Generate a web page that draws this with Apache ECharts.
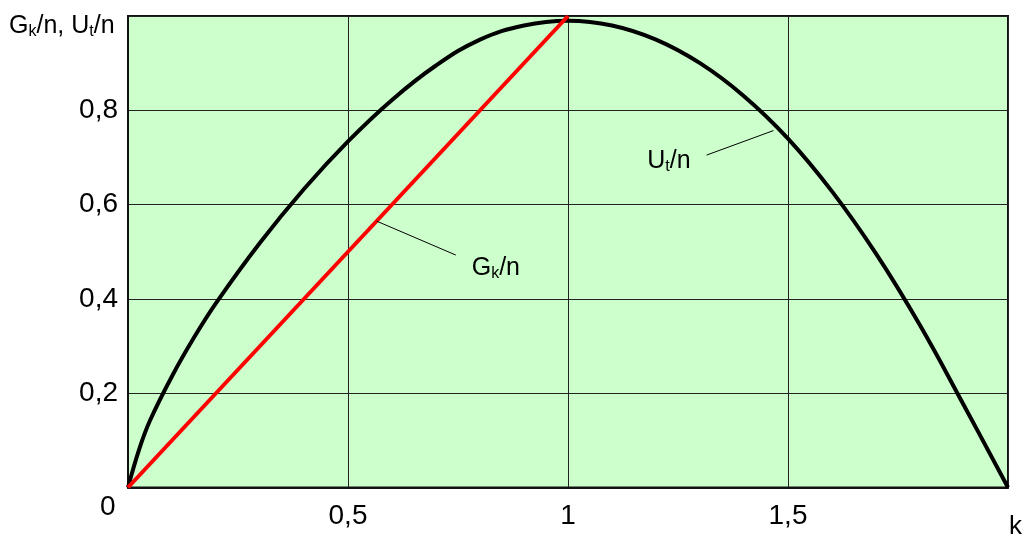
<!DOCTYPE html>
<html>
<head>
<meta charset="utf-8">
<script src="https://cdn.jsdelivr.net/npm/echarts@6/dist/echarts.min.js"></script>
<style>
html,body{margin:0;padding:0;background:#fff;}
#c{width:1028px;height:539px;}
</style>
</head>
<body>
<div id="c"></div>
<script>
// U_t/n curve
const kU = [0, 0.025, 0.05, 0.1, 0.15, 0.2, 0.3, 0.4, 0.5, 0.6, 0.7, 0.8, 0.9, 1.0, 1.1, 1.2, 1.3, 1.4, 1.5, 1.6, 1.7, 1.8, 1.9, 2.0];
const vU = [0, 0.08, 0.142, 0.236, 0.318, 0.391, 0.519, 0.633, 0.734, 0.822, 0.895, 0.95, 0.98, 0.99, 0.98, 0.95, 0.90, 0.83, 0.74, 0.628, 0.496, 0.344, 0.174, 0];
// G_k/n line
const kG = [0, 1];
const vG = [0, 1];
// tick labels
const xTickValues = [0.5, 1, 1.5];
const xTickLabels = ['0,5', '1', '1,5'];
const yTickValues = [0.2, 0.4, 0.6, 0.8];
const yTickLabels = ['0,2', '0,4', '0,6', '0,8'];
// annotation anchors (data coordinates)
const uLeader = [[1.315, 0.705], [1.467, 0.757]];
const gLeader = [[0.565, 0.565], [0.745, 0.493]];
const uLabelAt = [1.2295, 0.692];
const gLabelAt = [0.836, 0.465];

const FONT = "'Liberation Sans', Arial, sans-serif";
const rich = {
  m: {fontSize: 25, fontFamily: FONT, color: '#000', lineHeight: 26, verticalAlign: 'top'},
  s: {fontSize: 16, fontFamily: FONT, color: '#000', lineHeight: 13, verticalAlign: 'bottom'}
};

function fmt(list, labels) {
  return function (v) {
    for (let i = 0; i < list.length; i++) if (Math.abs(list[i] - v) < 1e-9) return labels[i];
    return '';
  };
}

const chart = echarts.init(document.getElementById('c'));
chart.setOption({
  animation: false,
  backgroundColor: '#ffffff',
  grid: {left: 128, right: 20, top: 16, bottom: 51.5, show: true, backgroundColor: '#ccffcc', borderColor: '#111', borderWidth: 2},
  xAxis: {
    type: 'value', min: 0, max: 2, interval: 0.5,
    axisLine: {show: true, lineStyle: {color: '#111', width: 2}},
    axisTick: {show: false},
    splitLine: {show: true, lineStyle: {color: '#222', width: 1}},
    axisLabel: {formatter: fmt(xTickValues, xTickLabels), fontSize: 28, fontFamily: FONT, color: '#000', margin: 15}
  },
  yAxis: {
    type: 'value', min: 0, max: 1, interval: 0.2,
    axisLine: {show: true, lineStyle: {color: '#111', width: 2}},
    axisTick: {show: false},
    splitLine: {show: true, lineStyle: {color: '#222', width: 1}},
    axisLabel: {formatter: fmt(yTickValues, yTickLabels), fontSize: 28, fontFamily: FONT, color: '#000', margin: 10}
  },
  series: [
    {
      type: 'line', name: 'U', data: kU.map((k, i) => [k, vU[i]]),
      showSymbol: false, smooth: 0.4, z: 3,
      lineStyle: {color: '#000', width: 4},
      markLine: {
        silent: true, symbol: ['none', 'none'], animation: false,
        lineStyle: {color: '#000', width: 1, type: 'solid'},
        label: {show: false},
        data: [
          [{coord: uLeader[0]}, {coord: uLeader[1]}],
          [{coord: gLeader[0]}, {coord: gLeader[1]}]
        ]
      },
      markPoint: {
        silent: true, symbol: 'rect', symbolSize: 1,
        itemStyle: {color: 'rgba(0,0,0,0)'},
        data: [
          {coord: uLabelAt, label: {show: true, position: 'inside', formatter: '{m|U}{s|t}{m|/n}', rich: rich}},
          {coord: gLabelAt, label: {show: true, position: 'inside', formatter: '{m|G}{s|k}{m|/n}', rich: rich}}
        ]
      }
    },
    {
      type: 'line', name: 'G', data: kG.map((k, i) => [k, vG[i]]),
      showSymbol: false, z: 4,
      lineStyle: {color: '#ff0000', width: 4}
    }
  ],
  graphic: [
    {type: 'text', left: 9, top: 14, style: {text: '{m|G}{s|k}{m|/n, U}{s|t}{m|/n}', rich: rich}},
    {type: 'text', left: 100, top: 493, style: {text: '0', fontSize: 28, fontFamily: FONT, fill: '#000'}},
    {type: 'text', left: 1009, top: 514, style: {text: 'k', fontSize: 26, fontFamily: FONT, fill: '#000'}}
  ]
});
</script>
</body>
</html>
